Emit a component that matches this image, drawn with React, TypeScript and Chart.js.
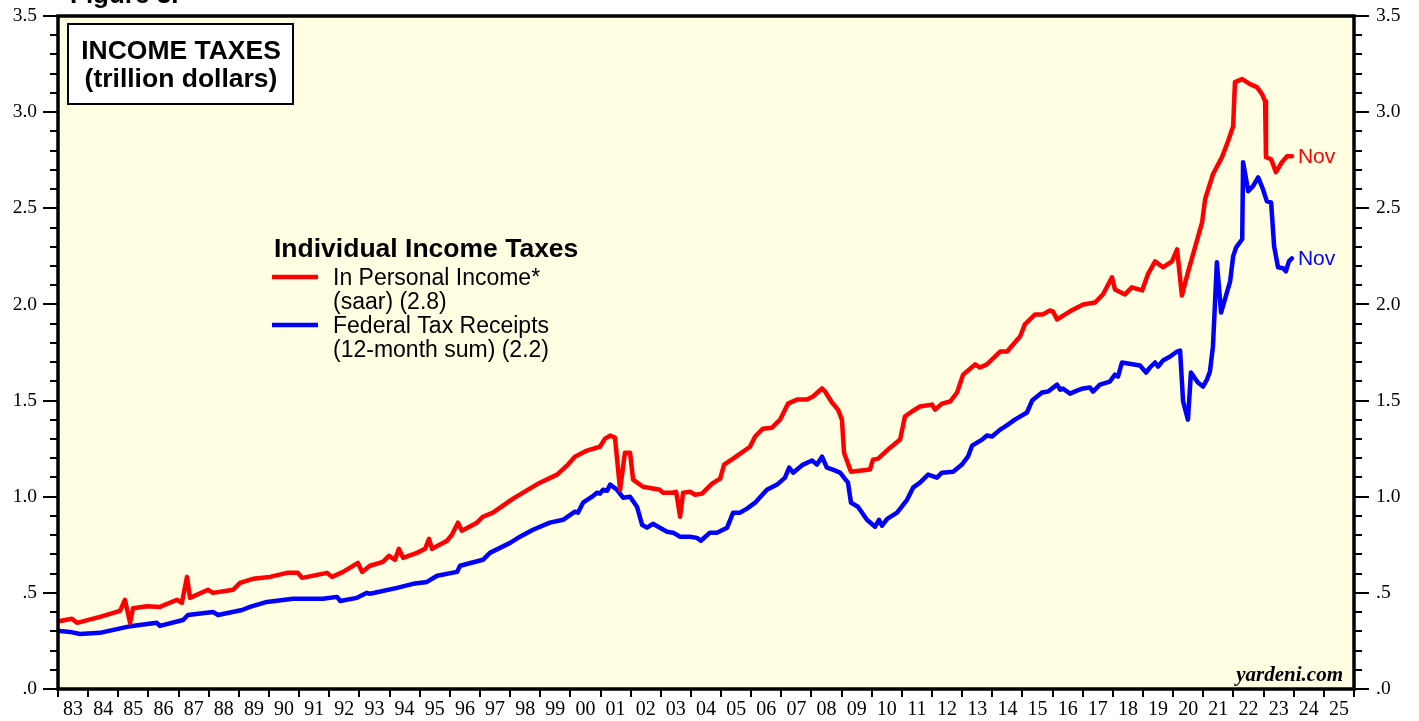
import React, { useEffect, useRef } from 'react';
import { Chart, registerables } from 'chart.js';

Chart.register(...registerables);

// ---------------- data ----------------
const redYears = [
  1983.07, 1983.46, 1983.63, 1984.39, 1985.06, 1985.22, 1985.39, 1985.49, 1985.95, 1986.38,
  1986.95, 1987.11, 1987.28, 1987.38, 1987.98, 1988.14, 1988.81, 1989.04, 1989.47, 1990.03,
  1990.6, 1990.96, 1991.1, 1991.93, 1992.09, 1992.46, 1992.95, 1993.09, 1993.35, 1993.78,
  1993.98, 1994.18, 1994.31, 1994.45, 1994.91, 1995.18, 1995.31, 1995.41, 1995.91, 1996.07,
  1996.27, 1996.4, 1996.9, 1997.1, 1997.43, 1998.1, 1998.43, 1998.99, 1999.56, 1999.92,
  2000.15, 2000.55, 2000.98, 2001.15, 2001.32, 2001.48, 2001.65, 2001.81, 2001.98, 2002.08,
  2002.41, 2002.97, 2003.07, 2003.41, 2003.51, 2003.64, 2003.74, 2003.97, 2004.14, 2004.37,
  2004.7, 2004.97, 2005.1, 2005.4, 2005.96, 2006.13, 2006.39, 2006.69, 2006.96, 2007.22,
  2007.52, 2007.85, 2008.05, 2008.35, 2008.45, 2008.68, 2008.88, 2009.01, 2009.08, 2009.31,
  2009.94, 2010.04, 2010.21, 2010.61, 2010.94, 2011.1, 2011.33, 2011.6, 2012.0, 2012.1,
  2012.33, 2012.6, 2012.83, 2013.03, 2013.43, 2013.59, 2013.82, 2014.26, 2014.49, 2014.92,
  2015.08, 2015.42, 2015.68, 2015.91, 2016.01, 2016.15, 2016.58, 2017.01, 2017.41, 2017.67,
  2017.97, 2018.07, 2018.4, 2018.63, 2018.97, 2019.16, 2019.4, 2019.66, 2019.96, 2020.13,
  2020.29, 2020.49, 2020.96, 2021.06, 2021.32, 2021.62, 2021.82, 2021.99, 2022.05, 2022.29,
  2022.55, 2022.78, 2022.95, 2023.05, 2023.08, 2023.25, 2023.41, 2023.61, 2023.78, 2023.94,
];
const redValues = [
  0.354, 0.365, 0.344, 0.375, 0.406, 0.464, 0.344, 0.42, 0.43, 0.427,
  0.464, 0.448, 0.583, 0.474, 0.516, 0.5, 0.516, 0.552, 0.573, 0.583,
  0.604, 0.604, 0.578, 0.604, 0.583, 0.609, 0.656, 0.609, 0.641, 0.661,
  0.693, 0.672, 0.729, 0.682, 0.708, 0.729, 0.781, 0.729, 0.771, 0.802,
  0.865, 0.823, 0.865, 0.896, 0.917, 0.99, 1.021, 1.073, 1.115, 1.167,
  1.208, 1.24, 1.26, 1.302, 1.318, 1.307, 1.036, 1.229, 1.229, 1.089,
  1.052, 1.036, 1.021, 1.021, 1.026, 0.896, 1.021, 1.026, 1.01, 1.016,
  1.068, 1.094, 1.167, 1.198, 1.26, 1.313, 1.354, 1.359, 1.401, 1.484,
  1.505, 1.505, 1.521, 1.563, 1.547, 1.49, 1.453, 1.401, 1.229, 1.13,
  1.141, 1.193, 1.198, 1.255, 1.297, 1.417, 1.443, 1.469, 1.479, 1.453,
  1.484, 1.495, 1.542, 1.635, 1.688, 1.672, 1.688, 1.755, 1.755, 1.833,
  1.896, 1.948, 1.948, 1.969, 1.964, 1.922, 1.964, 2.0, 2.01, 2.052,
  2.141, 2.078, 2.052, 2.089, 2.073, 2.156, 2.224, 2.193, 2.224, 2.286,
  2.047, 2.167, 2.427, 2.547, 2.677, 2.766, 2.849, 2.927, 3.156, 3.172,
  3.146, 3.13, 3.094, 3.057, 2.766, 2.755, 2.688, 2.74, 2.771, 2.771,
];

const blueYears = [
  1983.07, 1983.4, 1983.73, 1984.39, 1985.29, 1985.46, 1986.28, 1986.38, 1987.15, 1987.31,
  1988.14, 1988.31, 1989.11, 1989.37, 1989.93, 1990.8, 1991.79, 1992.26, 1992.36, 1992.92,
  1993.25, 1993.35, 1994.25, 1994.78, 1995.24, 1995.58, 1996.24, 1996.34, 1997.1, 1997.33,
  1998.0, 1998.33, 1998.76, 1999.32, 1999.76, 2000.15, 2000.25, 2000.42, 2000.72, 2000.88,
  2000.98, 2001.08, 2001.22, 2001.32, 2001.55, 2001.75, 2001.98, 2002.21, 2002.38, 2002.54,
  2002.74, 2002.97, 2003.21, 2003.41, 2003.64, 2003.97, 2004.2, 2004.33, 2004.63, 2004.86,
  2005.2, 2005.4, 2005.63, 2005.86, 2006.13, 2006.52, 2006.86, 2007.12, 2007.26, 2007.39,
  2007.72, 2008.02, 2008.18, 2008.35, 2008.51, 2008.71, 2008.95, 2009.21, 2009.31, 2009.54,
  2009.84, 2010.11, 2010.24, 2010.34, 2010.51, 2010.84, 2011.17, 2011.37, 2011.6, 2011.87,
  2012.16, 2012.33, 2012.7, 2012.99, 2013.19, 2013.33, 2013.66, 2013.82, 2013.99, 2014.26,
  2014.42, 2014.75, 2015.15, 2015.32, 2015.65, 2015.85, 2016.15, 2016.25, 2016.34, 2016.58,
  2016.81, 2017.01, 2017.24, 2017.34, 2017.57, 2017.9, 2018.07, 2018.17, 2018.3, 2018.5,
  2018.9, 2019.1, 2019.23, 2019.4, 2019.5, 2019.66, 2019.9, 2020.13, 2020.23, 2020.33,
  2020.49, 2020.59, 2020.82, 2020.99, 2021.12, 2021.22, 2021.32, 2021.45, 2021.59, 2021.89,
  2021.99, 2022.09, 2022.29, 2022.32, 2022.49, 2022.65, 2022.82, 2022.98, 2023.11, 2023.25,
  2023.35, 2023.48, 2023.65, 2023.74, 2023.84, 2023.94,
];
const blueValues = [
  0.302, 0.297, 0.286, 0.292, 0.323, 0.328, 0.344, 0.328, 0.359, 0.385,
  0.401, 0.385, 0.411, 0.427, 0.453, 0.469, 0.469, 0.479, 0.458, 0.474,
  0.5, 0.495, 0.526, 0.547, 0.557, 0.589, 0.609, 0.641, 0.672, 0.708,
  0.76, 0.792, 0.828, 0.865, 0.88, 0.922, 0.917, 0.969, 1.0, 1.021,
  1.016, 1.036, 1.031, 1.063, 1.036, 0.995, 1.0, 0.948, 0.854, 0.839,
  0.859, 0.839, 0.818, 0.813, 0.792, 0.792, 0.786, 0.771, 0.813, 0.813,
  0.839, 0.917, 0.917, 0.938, 0.969, 1.036, 1.063, 1.099, 1.151, 1.125,
  1.167, 1.188, 1.167, 1.208, 1.151, 1.141, 1.125, 1.073, 0.969, 0.948,
  0.88, 0.844, 0.88, 0.849, 0.885, 0.917, 0.984, 1.047, 1.073, 1.115,
  1.099, 1.125, 1.13, 1.167, 1.208, 1.266, 1.297, 1.318, 1.313, 1.349,
  1.365, 1.401, 1.438, 1.5, 1.542, 1.547, 1.583, 1.557, 1.563, 1.536,
  1.552, 1.563, 1.568, 1.547, 1.583, 1.599, 1.635, 1.625, 1.698, 1.693,
  1.682, 1.646, 1.672, 1.698, 1.677, 1.708, 1.729, 1.755, 1.76, 1.495,
  1.401, 1.646, 1.594, 1.573, 1.609, 1.651, 1.781, 2.219, 1.958, 2.12,
  2.25, 2.297, 2.339, 2.74, 2.589, 2.615, 2.661, 2.599, 2.536, 2.531,
  2.302, 2.193, 2.188, 2.172, 2.224, 2.24,
];

const yearLabels = [
  '83', '84', '85', '86', '87', '88', '89', '90', '91', '92', '93', '94', '95', '96', '97',
  '98', '99', '00', '01', '02', '03', '04', '05', '06', '07', '08', '09', '10', '11', '12',
  '13', '14', '15', '16', '17', '18', '19', '20', '21', '22', '23', '24', '25',
];
const firstYear = 1983;
const lastYear = 2026;
const yTickValues = [0, 0.5, 1.0, 1.5, 2.0, 2.5, 3.0, 3.5];
const yTickLabels = ['.0', '.5', '1.0', '1.5', '2.0', '2.5', '3.0', '3.5'];
const yMinorStep = 0.1;

const figureLabel = 'Figure 3.';
const titleLines = ['INCOME TAXES', '(trillion dollars)'];
const legendTitle = 'Individual Income Taxes';
const seriesNames = [
  ['In Personal Income*', '(saar) (2.8)'],
  ['Federal Tax Receipts', '(12-month sum) (2.2)'],
];
const endLabel = 'Nov';
const sourceLabel = 'yardeni.com';

const RED = '#FF0000';
const BLUE = '#0000FF';
const SANS = '"Liberation Sans", Arial, sans-serif';
const SERIF = '"Liberation Serif", "Times New Roman", serif';

export default function App() {
  const canvasRef = useRef<HTMLCanvasElement | null>(null);

  useEffect(() => {
    const canvas = canvasRef.current;
    if (!canvas) return;

    const decor = {
      id: 'decor',
      beforeDraw(chart: any) {
        const { ctx, chartArea: a } = chart;
        ctx.save();
        ctx.fillStyle = '#FFFEE3';
        ctx.fillRect(a.left, a.top, a.right - a.left, a.bottom - a.top);
        ctx.restore();
      },
      afterDraw(chart: any) {
        const { ctx, chartArea: a, scales } = chart;
        const xs = scales.x;
        const ys = scales.y;
        ctx.save();
        ctx.strokeStyle = '#000';
        ctx.lineCap = 'butt';
        const line = (x1: number, y1: number, x2: number, y2: number) => {
          ctx.beginPath();
          ctx.moveTo(x1, y1);
          ctx.lineTo(x2, y2);
          ctx.stroke();
        };
        // y ticks (major + minor), both sides
        ctx.lineWidth = 2;
        const nMinor = Math.round(3.5 / yMinorStep);
        for (let i = 0; i <= nMinor; i++) {
          const v = i * yMinorStep;
          const py = Math.round(ys.getPixelForValue(v));
          const major = i % 5 === 0;
          line(a.left - (major ? 15 : 8), py, a.left, py);
          line(a.right, py, a.right + (major ? 15 : 8), py);
        }
        // x ticks at year boundaries
        for (let yr = firstYear; yr <= lastYear; yr++) {
          const px = Math.round(xs.getPixelForValue(yr));
          line(px, a.bottom, px, a.bottom + 8);
        }
        // frame
        ctx.lineWidth = 3.5;
        ctx.strokeRect(a.left, a.top, a.right - a.left, a.bottom - a.top);

        // figure label (cut off at top)
        ctx.fillStyle = '#000';
        ctx.font = `bold 26px ${SANS}`;
        ctx.textAlign = 'left';
        ctx.textBaseline = 'alphabetic';
        ctx.fillText(figureLabel, 70, 3);

        // title box
        ctx.fillStyle = '#FFFFFF';
        ctx.fillRect(68, 24, 225, 80);
        ctx.lineWidth = 2;
        ctx.strokeRect(68, 24, 225, 80);
        ctx.fillStyle = '#000';
        ctx.font = `bold 26.5px ${SANS}`;
        ctx.textAlign = 'center';
        ctx.fillText(titleLines[0], 181, 59);
        ctx.fillText(titleLines[1], 181, 87);

        // legend
        ctx.textAlign = 'left';
        ctx.font = `bold 26.5px ${SANS}`;
        ctx.fillText(legendTitle, 274, 257);
        ctx.font = `23px ${SANS}`;
        const colors = [RED, BLUE];
        seriesNames.forEach((lines, i) => {
          const base = 285 + i * 48;
          ctx.strokeStyle = colors[i];
          ctx.lineWidth = 4.5;
          line(272, base - 8, 318, base - 8);
          ctx.fillStyle = '#000';
          ctx.fillText(lines[0], 333, base);
          ctx.fillText(lines[1], 333, base + 24);
        });

        // end labels
        ctx.font = `21px ${SANS}`;
        const ends = [
          { yrs: redYears, vals: redValues, color: RED },
          { yrs: blueYears, vals: blueValues, color: BLUE },
        ];
        ends.forEach((e) => {
          const n = e.yrs.length - 1;
          const px = xs.getPixelForValue(e.yrs[n]);
          const py = ys.getPixelForValue(e.vals[n]);
          ctx.fillStyle = e.color;
          ctx.fillText(endLabel, px + 6, py + 7);
        });

        // source
        ctx.fillStyle = '#000';
        ctx.font = `italic bold 21px ${SERIF}`;
        ctx.textAlign = 'right';
        ctx.fillText(sourceLabel, 1343, 681);
        ctx.restore();
      },
    };

    const yTickCfg = {
      font: { family: SERIF, size: 19.5 },
      color: '#000',
      callback: (_v: any, i: number) => yTickLabels[i],
    };
    const noVPad = (s: any) => {
      s.paddingTop = 0;
      s.paddingBottom = 0;
    };

    const chart = new Chart(canvas, {
      type: 'line',
      data: {
        datasets: [
          {
            label: seriesNames[0].join(' '),
            data: redYears.map((x, i) => ({ x, y: redValues[i] })),
            borderColor: RED,
            backgroundColor: RED,
            borderWidth: 4.5,
            pointRadius: 0,
            tension: 0,
            borderJoinStyle: 'round',
            borderCapStyle: 'round',
            yAxisID: 'y',
          },
          {
            label: seriesNames[1].join(' '),
            data: blueYears.map((x, i) => ({ x, y: blueValues[i] })),
            borderColor: BLUE,
            backgroundColor: BLUE,
            borderWidth: 4.5,
            pointRadius: 0,
            tension: 0,
            borderJoinStyle: 'round',
            borderCapStyle: 'round',
            yAxisID: 'y',
          },
        ],
      },
      options: {
        responsive: false,
        animation: false,
        devicePixelRatio: 1,
        layout: { padding: { top: 16, left: 0, right: 0, bottom: 0 } },
        plugins: { legend: { display: false }, tooltip: { enabled: false }, title: { display: false } },
        scales: {
          x: {
            type: 'linear',
            min: firstYear,
            max: lastYear,
            grid: { display: false, drawTicks: false },
            border: { display: false },
            afterBuildTicks: (s: any) => {
              s.ticks = yearLabels.map((_, i) => ({ value: firstYear + 0.5 + i }));
            },
            afterFit: (s: any) => {
              s.height = 32;
              s.paddingLeft = 0;
              s.paddingRight = 0;
            },
            ticks: {
              autoSkip: false,
              maxRotation: 0,
              minRotation: 0,
              padding: 9,
              font: { family: SERIF, size: 20 },
              color: '#000',
              callback: (_v: any, i: number) => yearLabels[i],
            },
          },
          y: {
            type: 'linear',
            position: 'left',
            min: 0,
            max: 3.5,
            grid: { display: false, drawTicks: false },
            border: { display: false },
            afterBuildTicks: (s: any) => {
              s.ticks = yTickValues.map((v) => ({ value: v }));
            },
            afterFit: (s: any) => {
              s.width = 58;
              noVPad(s);
            },
            ticks: { ...yTickCfg, padding: 21 },
          },
          y2: {
            type: 'linear',
            position: 'right',
            min: 0,
            max: 3.5,
            grid: { display: false, drawTicks: false },
            border: { display: false },
            afterBuildTicks: (s: any) => {
              s.ticks = yTickValues.map((v) => ({ value: v }));
            },
            afterFit: (s: any) => {
              s.width = 65;
              noVPad(s);
            },
            ticks: { ...yTickCfg, padding: 22 },
          },
        },
      } as any,
      plugins: [decor],
    });

    return () => chart.destroy();
  }, []);

  return (
    <div style={{ position: 'absolute', left: 0, top: 0, width: 1419, height: 721, background: '#fff' }}>
      <canvas ref={canvasRef} width={1419} height={721} style={{ display: 'block' }} />
    </div>
  );
}
